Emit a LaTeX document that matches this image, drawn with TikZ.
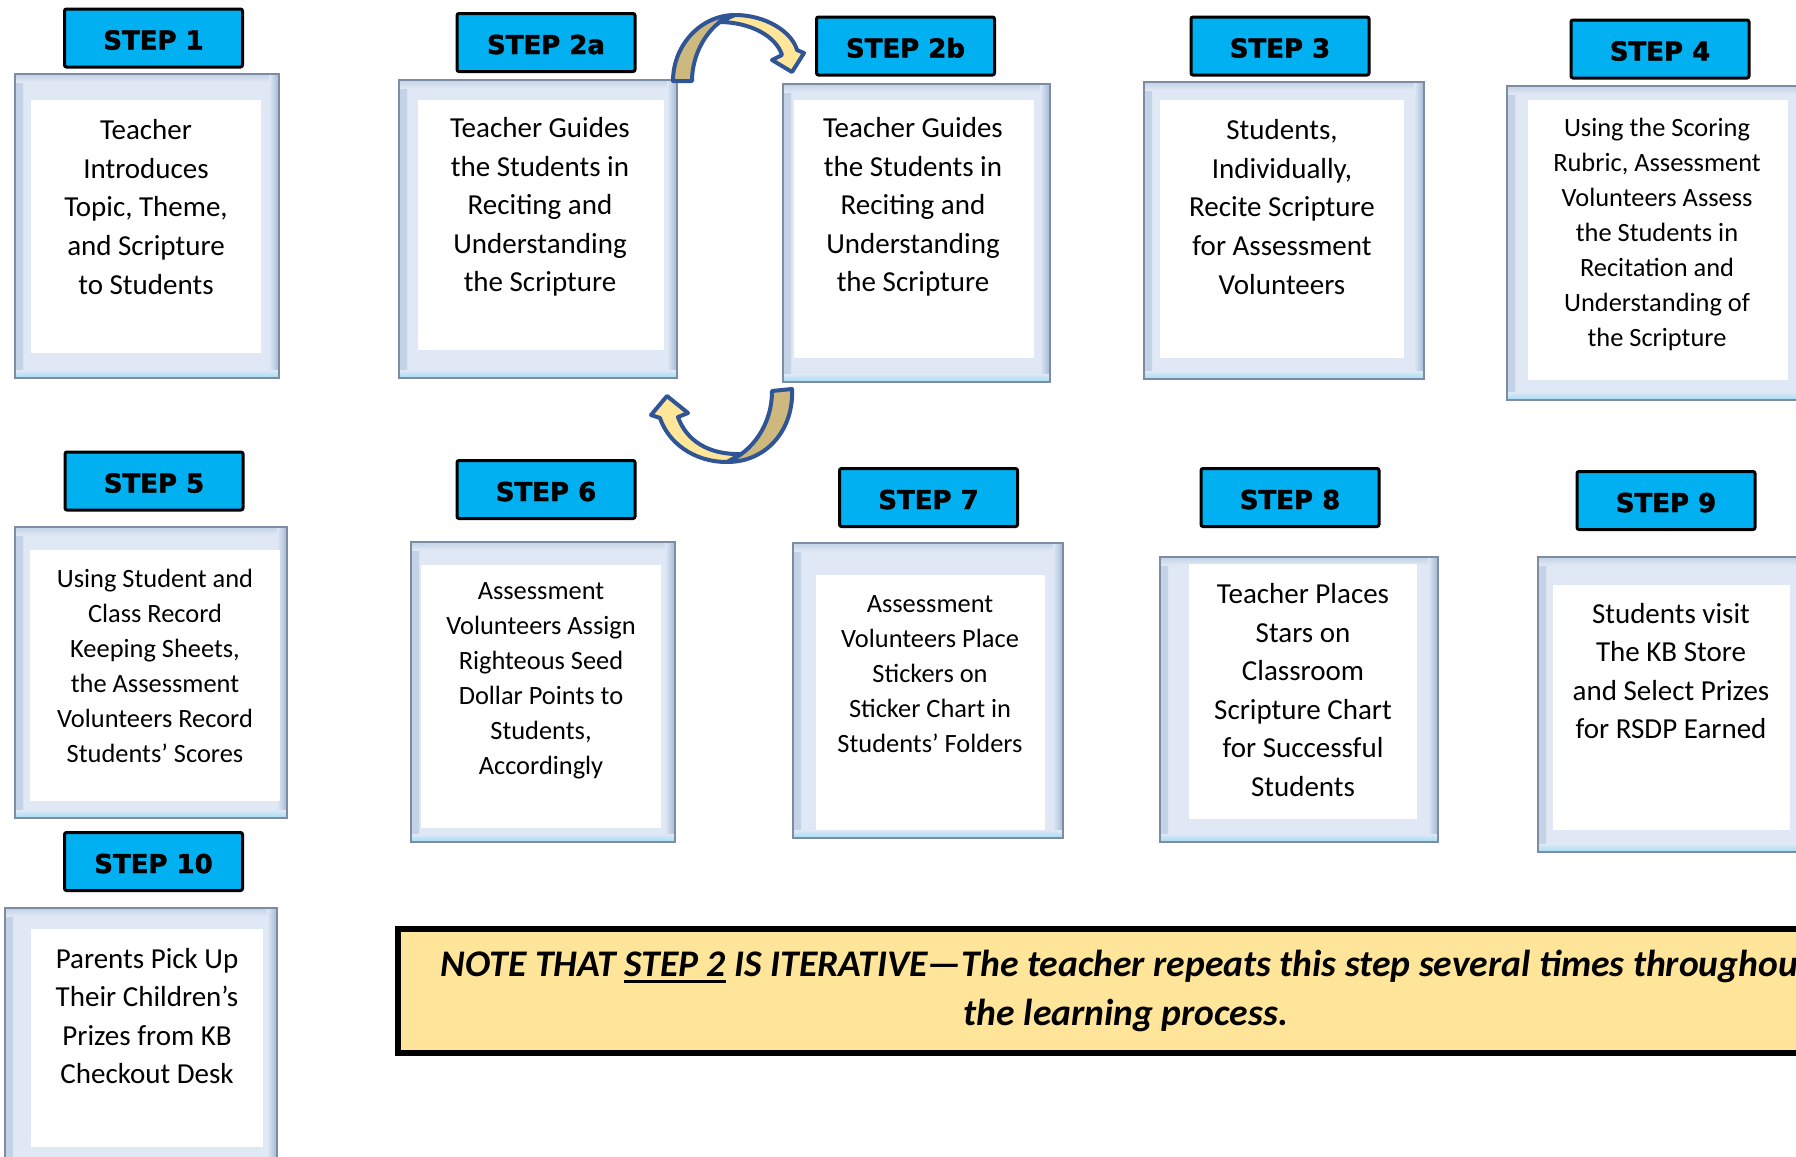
\documentclass[tikz,border=0pt]{standalone}
\usepackage{fontspec}
\setmainfont{Carlito}
\newfontfamily\stepfont{DejaVu Sans}[BoldFeatures={FakeBold=1.6}]

\definecolor{stepblue}{HTML}{00B0F0}
\definecolor{framefill}{HTML}{DFE8F4}
\definecolor{frameedge}{HTML}{C3D2E6}
\definecolor{frameline}{HTML}{7D8CA3}
\definecolor{bevelright}{HTML}{A3B8D6}
\definecolor{bevelbottom}{HTML}{9FDDF7}
\definecolor{notefill}{HTML}{FFE599}
\definecolor{arrowline}{HTML}{2F5597}
\definecolor{arrowback}{HTML}{CDB97D}
\definecolor{arrowfront}{HTML}{FFE699}

\newcommand\stepul[1]{\setbox0=\hbox{#1}\rlap{\rule[-3pt]{\wd0}{1.4pt}}\box0\relax}

\tikzset{
  frame/.style={fill=framefill, draw=frameline, line width=0.7pt,
    path picture={
      \shade[left color=frameedge, right color=framefill]
        (path picture bounding box.north west) rectangle ([xshift=4pt]path picture bounding box.south west);
      \shade[top color=frameedge, bottom color=framefill]
        (path picture bounding box.north west) rectangle ([yshift=-4pt]path picture bounding box.north east);
      \shade[left color=framefill, right color=bevelright]
        ([xshift=-5pt]path picture bounding box.north east) rectangle (path picture bounding box.south east);
      \shade[top color=framefill, bottom color=bevelbottom]
        ([yshift=4pt]path picture bounding box.south west) rectangle (path picture bounding box.south east);
    }},
  stepbox/.style={draw=black, line width=1.5pt, fill=stepblue, rounded corners=1pt,
    minimum width=89pt, minimum height=29pt, inner sep=0pt, text height=11.5pt, text depth=0pt,
    font=\stepfont\bfseries\fontsize{13pt}{15pt}\selectfont},
  bigtxt/.style={align=center, inner sep=0pt, font=\fontsize{14.5pt}{19.3pt}\selectfont},
  smalltxt/.style={align=center, inner sep=0pt, font=\fontsize{13.2pt}{17.5pt}\selectfont},
  notebox/.style={draw=black, line width=3pt, fill=notefill, minimum width=728pt,
    minimum height=62pt, align=center, inner sep=0pt,
    font=\bfseries\itshape\fontsize{18.8pt}{24.5pt}\selectfont},
  arrowpart/.style={draw=arrowline, line width=2pt, line join=round},
}

\begin{document}
\begin{tikzpicture}[x=0.5pt, y=-0.5pt]
    \path[use as bounding box, fill=white] (0,0) rectangle (1796,1157);

    % step 1
    \draw[frame] (15,74) rectangle (279,378);
    \fill[white] (31,100) rectangle (261,353);
    \node[bigtxt] (t1) at (146,207) {Teacher\\Introduces\\Topic, Theme,\\and Scripture\\to Students};
    \node[stepbox] (s1) at (153.5,38) {STEP 1};

    % step 2a
    \draw[frame] (399,80) rectangle (677,378);
    \fill[white] (418,100) rectangle (664,350);
    \node[bigtxt] (t2a) at (540,207) {Teacher Guides\\the Students in\\Reciting and\\Understanding\\the Scripture};
    \node[stepbox] (s2a) at (546,42.5) {STEP 2a};

    % step 2b
    \draw[frame] (783,84) rectangle (1050,382);
    \fill[white] (794,100) rectangle (1034,358);
    \node[bigtxt] (t2b) at (913,207) {Teacher Guides\\the Students in\\Reciting and\\Understanding\\the Scripture};
    \node[stepbox] (s2b) at (905.5,46) {STEP 2b};

    % step 3
    \draw[frame] (1144,82) rectangle (1424,379);
    \fill[white] (1160,100) rectangle (1404,358);
    \node[bigtxt] (t3) at (1282,207) {Students,\\Individually,\\Recite Scripture\\for Assessment\\Volunteers};
    \node[stepbox] (s3) at (1280,46) {STEP 3};

    % step 4
    \draw[frame] (1507,86) rectangle (1812,400);
    \fill[white] (1528,100) rectangle (1788,380);
    \node[smalltxt] (t4) at (1657,234) {Using the Scoring\\Rubric, Assessment\\Volunteers Assess\\the Students in\\Recitation and\\Understanding of\\the Scripture};
    \node[stepbox] (s4) at (1660,49) {STEP 4};

    % step 5
    \draw[frame] (15,527) rectangle (287,818);
    \fill[white] (30,550) rectangle (280,801);
    \node[smalltxt] (t5) at (155,666) {Using Student and\\Class Record\\Keeping Sheets,\\the Assessment\\Volunteers Record\\Students’ Scores};
    \node[stepbox] (s5) at (154,481) {STEP 5};

    % step 6
    \draw[frame] (411,542) rectangle (675,842);
    \fill[white] (421,565) rectangle (661,828);
    \node[smalltxt] (t6) at (541,681) {Assessment\\Volunteers Assign\\Righteous Seed\\Dollar Points to\\Students,\\Accordingly};
    \node[stepbox] (s6) at (546,489.5) {STEP 6};

    % step 7
    \draw[frame] (793,543) rectangle (1063,838);
    \fill[white] (816,575) rectangle (1045,830);
    \node[smalltxt] (t7) at (930,674) {Assessment\\Volunteers Place\\Stickers on\\Sticker Chart in\\Students’ Folders};
    \node[stepbox] (s7) at (928.5,497.5) {STEP 7};

    % step 8
    \draw[frame] (1160,557) rectangle (1438,842);
    \fill[white] (1189,564) rectangle (1417,819);
    \node[bigtxt] (t8) at (1303,690) {Teacher Places\\Stars on\\Classroom\\Scripture Chart\\for Successful\\Students};
    \node[stepbox] (s8) at (1290,497.5) {STEP 8};

    % step 9
    \draw[frame] (1538,557) rectangle (1820,852);
    \fill[white] (1553,585) rectangle (1790,830);
    \node[bigtxt] (t9) at (1671,671) {Students visit\\The KB Store\\and Select Prizes\\for RSDP Earned};
    \node[stepbox] (s9) at (1666,500.5) {STEP 9};

    % step 10
    \draw[frame] (5,908) rectangle (277,1175);
    \fill[white] (31,929) rectangle (263,1147);
    \node[bigtxt] (t10) at (147,1016) {Parents Pick Up\\Their Children’s\\Prizes from KB\\Checkout Desk};
    \node[stepbox] (s10) at (153.5,861.5) {STEP 10};

    % loop between 2a and 2b
    \filldraw[arrowpart, fill=arrowback] (673,81) .. controls (673,45) and (701,15) .. (735,15)
        .. controls (714,19) and (692,48) .. (692,81) -- cycle;
    \filldraw[arrowpart, fill=arrowfront] (735,15) .. controls (766,15) and (792,32) .. (797,50)
        -- (804,53) -- (792,72) -- (772,60) -- (782,55)
        .. controls (776,36) and (750,22) .. (719,22) -- cycle;
    \filldraw[arrowpart, fill=arrowback] (792,389) .. controls (794,428) and (768,462) .. (727,462)
        .. controls (752,452) and (772,425) .. (772,391) -- cycle;
    \filldraw[arrowpart, fill=arrowfront] (727,462) .. controls (693,462) and (668,442) .. (660,418)
        -- (651,415) -- (667,396) -- (688,413) -- (678,417)
        .. controls (686,440) and (708,455) .. (741,454) -- cycle;

    % note
    \node[notebox] (note) at (1126,991) {NOTE THAT \stepul{STEP 2} IS ITERATIVE—The teacher repeats this step several times throughout\\the learning process.};
\end{tikzpicture}
\end{document}
